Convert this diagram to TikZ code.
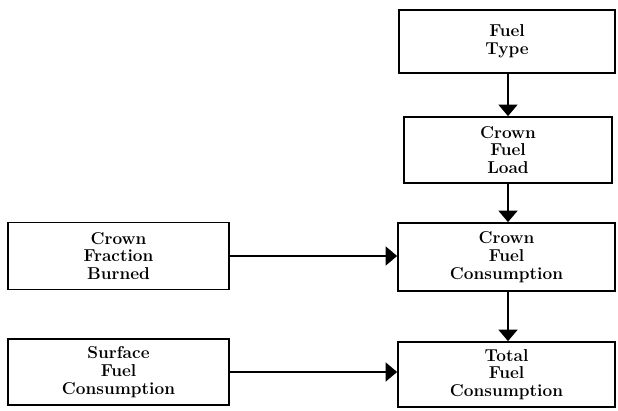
\documentclass[tikz,border=0pt]{standalone}
\usepackage{fontspec}
\setmainfont{Latin Modern Roman}
\usetikzlibrary{arrows.meta}
\begin{document}
\begin{tikzpicture}[x=1pt,y=-1pt,
  box/.style={draw,line width=1.8pt,inner sep=0pt,align=center,
    font=\fontsize{17.2}{17.8}\selectfont\bfseries},
  conn/.style={line width=1.8pt,-{Triangle[width=19pt,length=11.5pt]}}]
\useasboundingbox (0,0) rectangle (618,410);
\node[box,minimum width=216pt,minimum height=63pt] (ft) at (507,41.5) {Fuel\\Type};
\node[box,minimum width=208pt,minimum height=66pt] (cfl) at (508,150) {Crown\\Fuel\\Load};
\node[box,minimum width=217pt,minimum height=68pt] (cfc) at (506.5,257) {Crown\\Fuel\\Consumption};
\node[box,minimum width=217pt,minimum height=65pt] (tfc) at (506.5,374.5) {Total\\Fuel\\Consumption};
\node[box,minimum width=221pt,minimum height=67pt] (cfb) at (118.5,256) {Crown\\Fraction\\Burned};
\node[box,minimum width=221pt,minimum height=66pt] (sfc) at (118.5,372) {Surface\\Fuel\\Consumption};
\draw[conn] (ft.south -| cfl.north) -- (cfl.north);
\draw[conn] (cfl.south) -- (cfl.south |- cfc.north);
\draw[conn] (cfl.south |- cfc.south) -- (cfl.south |- tfc.north);
\draw[conn] (cfb.east) -- (cfb.east -| cfc.west);
\draw[conn] (sfc.east) -- (sfc.east -| tfc.west);
\end{tikzpicture}
\end{document}
